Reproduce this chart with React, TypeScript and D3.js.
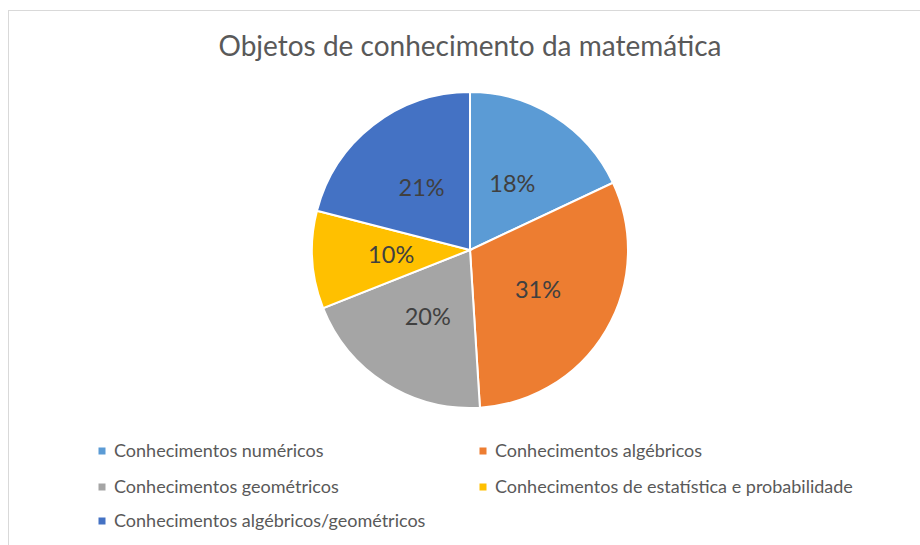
import React from "react";
import * as d3 from "d3";

const categories = [
  "Conhecimentos numéricos",
  "Conhecimentos algébricos",
  "Conhecimentos geométricos",
  "Conhecimentos de estatística e probabilidade",
  "Conhecimentos algébricos/geométricos",
];
const values = [18, 31, 20, 10, 21];
const colors = ["#5B9BD5", "#ED7D31", "#A5A5A5", "#FFC000", "#4472C4"];
const title = "Objetos de conhecimento da matemática";

const W = 920;
const H = 545;
const cx = 470;
const cy = 250;
const R = 158;
const FONT = "Lato, 'Open Sans', sans-serif";

export default function App() {
  const total = d3.sum(values);
  const pie = d3.pie<number>().sort(null).value((d) => d)(values);
  const arc = d3.arc<d3.PieArcDatum<number>>().innerRadius(0).outerRadius(R);
  const labelArc = d3
    .arc<d3.PieArcDatum<number>>()
    .innerRadius(R * 0.5)
    .outerRadius(R * 0.5);

  const legendCols = [102, 483];
  const legendRows = [451, 487, 521];

  return (
    <svg
      width={W}
      height={H}
      style={{ position: "absolute", left: 0, top: 0, background: "#fff" }}
    >
      <rect x={8.5} y={10.5} width={1000} height={1000} fill="#fff" stroke="#d9d9d9" strokeWidth={1} />
      <text
        x={cx}
        y={56}
        textAnchor="middle"
        fontFamily={FONT}
        fontSize={28}
        fill="#595959"
      >
        {title}
      </text>
      <g transform={`translate(${cx},${cy})`}>
        {pie.map((p, i) => (
          <path key={i} d={arc(p) || ""} fill={colors[i]} stroke="#fff" strokeWidth={2} />
        ))}
        {pie.map((p, i) => {
          const [x, y] = labelArc.centroid(p);
          return (
            <text
              key={"l" + i}
              x={x}
              y={y}
              dy="0.35em"
              textAnchor="middle"
              fontFamily={FONT}
              fontSize={23.5}
              fill="#404040"
            >
              {Math.round((values[i] / total) * 100)}%
            </text>
          );
        })}
      </g>
      {categories.map((c, i) => {
        const x = legendCols[i % 2];
        const y = legendRows[Math.floor(i / 2)];
        return (
          <g key={"lg" + i}>
            <rect x={x - 3.5} y={y - 3.5} width={7} height={7} fill={colors[i]} />
            <text
              x={x + 12}
              y={y}
              dy="0.35em"
              fontFamily={FONT}
              fontSize={18}
              fill="#595959"
            >
              {c}
            </text>
          </g>
        );
      })}
    </svg>
  );
}
